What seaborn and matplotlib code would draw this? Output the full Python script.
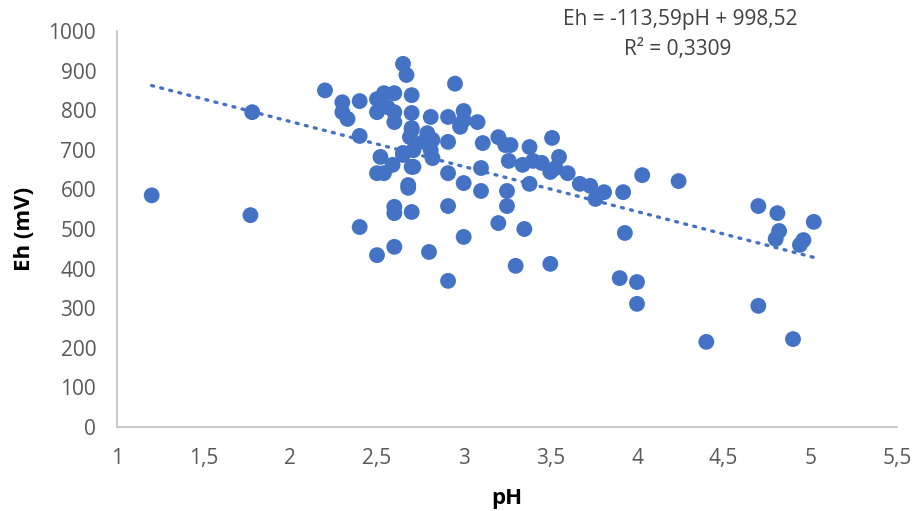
import matplotlib
matplotlib.use("Agg")
import matplotlib.pyplot as plt
import seaborn as sns
import numpy as np
import pandas as pd

ph = [1.20, 1.77, 1.78, 2.20, 2.30, 2.30, 2.33, 2.40, 2.40, 2.40,
      2.50, 2.50, 2.54, 2.60, 2.70, 2.60, 2.60, 2.70, 2.65, 2.67,
      2.95, 2.70, 2.81, 2.91, 3.00, 3.00, 2.98, 3.08, 2.91, 3.11,
      3.20, 3.24, 3.27, 3.51, 3.38, 3.26, 3.34, 3.40, 3.45, 3.55,
      3.50, 3.53, 3.60, 3.67, 3.73, 3.76, 3.81, 3.92, 4.03, 4.24,
      3.10, 3.00, 3.10, 3.25, 3.25, 3.38, 3.20, 3.35, 3.00, 3.93,
      3.30, 3.50, 3.90, 4.00, 4.00, 4.40, 4.70, 4.81, 5.02, 4.82,
      4.80, 4.96, 4.94, 4.70, 4.90,
      2.52, 2.65, 2.70, 2.50, 2.54, 2.59, 2.82, 2.91, 2.68, 2.60,
      2.60, 2.70, 2.91, 2.60, 2.50, 2.80, 2.91,
      2.56, 2.98, 2.70, 2.69, 2.79, 2.82, 2.77, 2.71, 2.81, 2.65,
      2.71, 2.68]
eh = [585, 535, 795, 850, 820, 795, 778, 823, 735, 505,
      828, 795, 843, 843, 838, 795, 770, 793, 917, 889,
      867, 750, 783, 783, 798, 775, 758, 770, 720, 717,
      732, 712, 712, 730, 707, 672, 662, 672, 667, 682,
      644, 654, 641, 614, 609, 576, 593, 593, 636, 621,
      654, 616, 596, 596, 558, 614, 515, 500, 480, 490,
      407, 412, 376, 366, 311, 215, 558, 540, 518, 495,
      475, 472, 460, 306, 222,
      682, 687, 657, 641, 641, 662, 679, 641, 604, 556,
      540, 543, 558, 455, 434, 442, 369,
      808, 763, 755, 732, 742, 725, 720, 699, 699, 692,
      657, 611]

slope = -113.59
intercept = 998.52
eq_text = "Eh = -113,59pH + 998,52"
r2_text = "R² = 0,3309"

df = pd.DataFrame({"pH": ph, "Eh": eh})

sns.set_theme(style="white")
plt.rcParams['font.family'] = ['Open Sans', 'DejaVu Sans']

fig = plt.figure(figsize=(9.13, 5.11), dpi=100)
ax = fig.add_axes([117/913, 1-427/511, (897-117)/913, (427-31)/511])

color = "#4472C4"
sns.scatterplot(data=df, x="pH", y="Eh", ax=ax, color=color, s=130,
                edgecolor="none", linewidth=0, zorder=3)

xs = np.array([min(ph), max(ph)])
ax.plot(xs, slope*xs + intercept, linestyle=(0, (0.6, 2.2)), color=color,
        linewidth=2.4, dash_capstyle="round", zorder=2)

ax.set_xlim(1, 5.5)
ax.set_ylim(0, 1000)
xt = np.arange(1, 5.51, 0.5)
ax.set_xticks(xt)
ax.set_xticklabels([("%g" % v).replace(".", ",") for v in xt])
ax.set_yticks(np.arange(0, 1001, 100))
ax.tick_params(axis="both", labelsize=15, colors="#595959", length=0)
ax.tick_params(axis="x", pad=15)
ax.tick_params(axis="y", pad=15)

for s in ["top", "right"]:
    ax.spines[s].set_visible(False)
for s in ["left", "bottom"]:
    ax.spines[s].set_color("#BFBFBF")
    ax.spines[s].set_linewidth(1.2)

ax.set_xlabel("pH", fontsize=16, fontweight="bold", color="black")
ax.set_ylabel("Eh (mV)", fontsize=16, fontweight="bold", color="black")
ax.xaxis.label.set_va("center")
ax.yaxis.label.set_va("center")
ax.xaxis.set_label_coords(0.5, (427-498)/396)
ax.yaxis.set_label_coords((25-117)/780, 0.5)

fig.text(680/913, 1-20/511, eq_text, ha="center", va="center", fontsize=15, color="#404040")
fig.text(678/913, 1-50/511, r2_text, ha="center", va="center", fontsize=15, color="#404040")

fig.savefig("out.png", dpi=100)
